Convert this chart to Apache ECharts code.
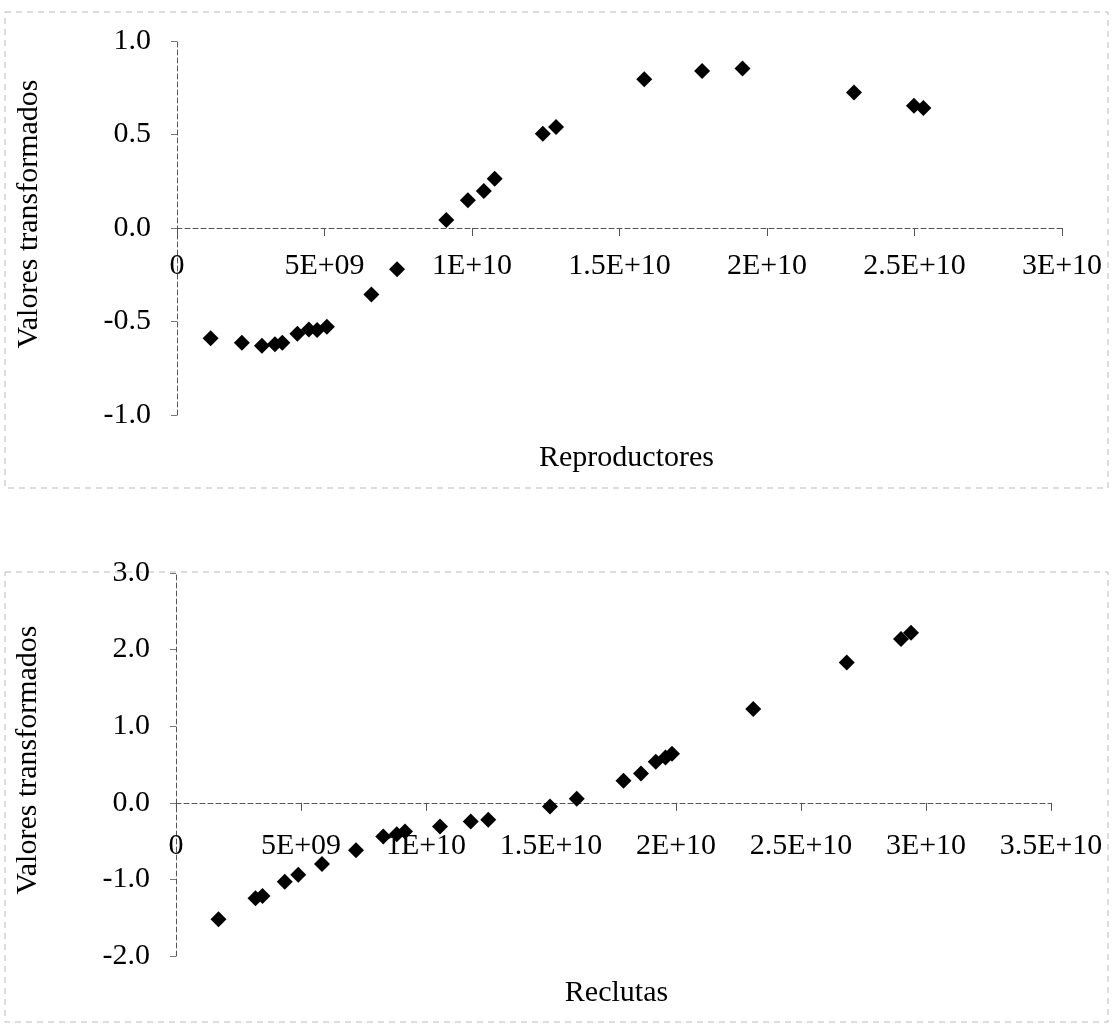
<!DOCTYPE html>
<html>
<head>
<meta charset="utf-8">
<script src="https://cdn.jsdelivr.net/npm/echarts@6/dist/echarts.min.js"></script>
<style>
  html, body { margin: 0; padding: 0; background: #fff; }
  #chart { width: 1112px; height: 1027px; }
</style>
</head>
<body>
<div id="chart"></div>
<script>
// Upper panel: spawning stock (Reproductores) against transformed values
const reproX = [1.14e9, 2.2e9, 2.88e9, 3.32e9, 3.57e9, 4.08e9, 4.47e9, 4.75e9, 5.08e9, 6.59e9, 7.46e9,
                9.13e9, 9.86e9, 10.4e9, 10.77e9, 12.4e9, 12.85e9, 15.84e9, 17.8e9, 19.17e9, 22.95e9, 24.98e9, 25.3e9];
const reproY = [-0.59, -0.613, -0.63, -0.622, -0.613, -0.565, -0.543, -0.546, -0.528, -0.356, -0.22,
                0.043, 0.149, 0.198, 0.264, 0.504, 0.54, 0.796, 0.84, 0.853, 0.725, 0.654, 0.642];

// Lower panel: recruits (Reclutas) against transformed values
const recX = [1.70e9, 3.18e9, 3.46e9, 4.35e9, 4.89e9, 5.84e9, 7.2e9, 8.29e9, 8.83e9, 9.16e9, 10.56e9, 11.79e9,
              12.49e9, 14.96e9, 16.03e9, 17.9e9, 18.6e9, 19.19e9, 19.58e9, 19.84e9, 23.09e9, 26.83e9, 29.0e9, 29.4e9];
const recY = [-1.52, -1.246, -1.216, -1.03, -0.94, -0.80, -0.62, -0.44, -0.41, -0.375, -0.31, -0.244,
              -0.222, -0.048, 0.052, 0.288, 0.383, 0.536, 0.59, 0.64, 1.225, 1.83, 2.14, 2.22];

// Tick labels in spreadsheet-style scientific notation
const reproXTicks = ['0', '5E+09', '1E+10', '1.5E+10', '2E+10', '2.5E+10', '3E+10'];
const recXTicks = ['0', '5E+09', '1E+10', '1.5E+10', '2E+10', '2.5E+10', '3E+10', '3.5E+10'];
const reproYTicks = ['-1.0', '-0.5', '0.0', '0.5', '1.0'];
const recYTicks = ['-2.0', '-1.0', '0.0', '1.0', '2.0', '3.0'];

const FONT = "'Liberation Serif', 'Times New Roman', serif";
const AXIS_LINE = { show: true, onZero: true, lineStyle: { color: '#555', width: 1, type: [5, 3] } };
const TICK = { show: true, length: 8, lineStyle: { color: '#555', width: 1 } };

function pick(labels, min, step) {
  return v => labels[Math.round((v - min) / step)] ?? '';
}

// The x labels sit just under the zero line, so their margin is measured
// back up from the bottom edge of the plot area.
function xAxis(grid, max, labels, name, labelMargin, gap, pad) {
  return {
    type: 'value', gridIndex: grid, min: 0, max: max, interval: 5e9,
    axisLine: AXIS_LINE, axisTick: TICK, splitLine: { show: false },
    axisLabel: { margin: labelMargin, color: '#000', fontFamily: FONT, fontSize: 30,
                 formatter: pick(labels, 0, 5e9) },
    name: name, nameLocation: 'middle', nameGap: gap, nameMoveOverlap: false,
    nameTextStyle: { color: '#000', fontFamily: FONT, fontSize: 30, padding: pad }
  };
}

function yAxis(grid, min, max, step, labels, gap, pad) {
  return {
    type: 'value', gridIndex: grid, min: min, max: max, interval: step,
    axisLine: AXIS_LINE, axisTick: { show: true, length: 6, lineStyle: { color: '#777', width: 1 } },
    splitLine: { show: false },
    axisLabel: { margin: 26, color: '#000', fontFamily: FONT, fontSize: 30, padding: [0, 0, 6, 0],
                 formatter: pick(labels, min, step) },
    name: 'Valores transformados', nameLocation: 'middle', nameRotate: 90, nameGap: gap, nameMoveOverlap: false,
    nameTextStyle: { color: '#000', fontFamily: FONT, fontSize: 30, padding: pad }
  };
}

const zip = (xs, ys) => xs.map((x, i) => [x, ys[i]]);
const DOT = { symbol: 'diamond', symbolSize: 16, itemStyle: { color: '#000', opacity: 1 } };

const chart = echarts.init(document.getElementById('chart'), null, { renderer: 'canvas' });
chart.setOption({
  backgroundColor: '#fff',
  animation: false,
  grid: [
    { left: 177, top: 41, width: 885, height: 374, outerBoundsMode: 'none', containLabel: false },
    { left: 176, top: 573, width: 875, height: 383, outerBoundsMode: 'none', containLabel: false }
  ],
  xAxis: [
    xAxis(0, 3e10, reproXTicks, 'Reproductores', -164, 28, [0, 0, 0, 14]),
    xAxis(1, 3.5e10, recXTicks, 'Reclutas', -125, 22, [0, 0, 0, 6])
  ],
  yAxis: [
    yAxis(0, -1, 1, 0.5, reproYTicks, 133, [0, 0, 0, 28]),
    yAxis(1, -2, 3, 1, recYTicks, 133, [0, 0, 0, 9])
  ],
  series: [
    Object.assign({ type: 'scatter', xAxisIndex: 0, yAxisIndex: 0, data: zip(reproX, reproY) }, DOT),
    Object.assign({ type: 'scatter', xAxisIndex: 1, yAxisIndex: 1, data: zip(recX, recY) }, DOT)
  ],
  graphic: [
    { type: 'rect', silent: true, z: -1, shape: { x: 5, y: 12, width: 1103, height: 476 },
      style: { fill: 'none', stroke: '#bbb', lineWidth: 1, lineDash: [6, 5] } },
    { type: 'rect', silent: true, z: -1, shape: { x: 5, y: 572, width: 1103, height: 450 },
      style: { fill: 'none', stroke: '#bbb', lineWidth: 1, lineDash: [6, 5] } }
  ]
});
</script>
</body>
</html>
